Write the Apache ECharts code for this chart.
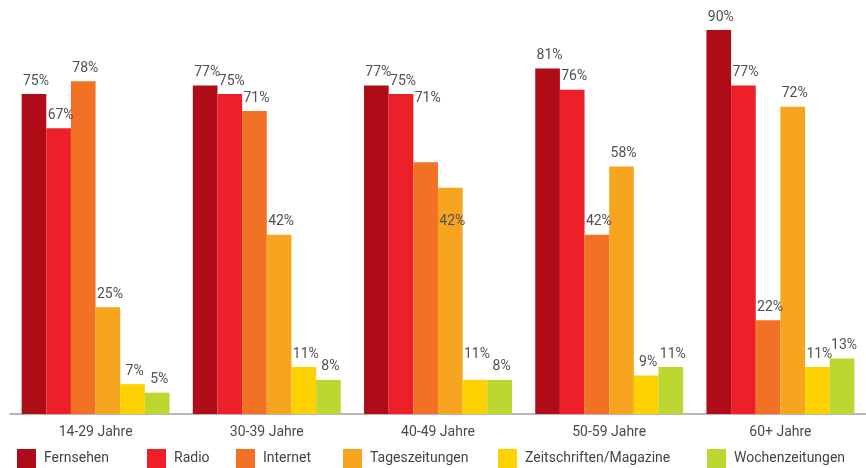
<!DOCTYPE html>
<html>
<head>
<meta charset="utf-8">
<script src="https://cdn.jsdelivr.net/npm/echarts@6/dist/echarts.min.js"></script>
<style>html,body{margin:0;padding:0;background:#fff}#c{width:866px;height:468px}</style>
</head>
<body>
<div id="c"></div>
<script>
// Categories (age groups)
const categories = ['14-29 Jahre', '30-39 Jahre', '40-49 Jahre', '50-59 Jahre', '60+ Jahre'];
const seriesNames = ['Fernsehen', 'Radio', 'Internet', 'Tageszeitungen', 'Zeitschriften/Magazine', 'Wochenzeitungen'];

// Bar heights as drawn (percent)
const fernsehen = [75, 77, 77, 81, 90];
const radio = [67, 75, 75, 76, 77];
const internet = [78, 71, 59, 42, 22];
const tageszeitungen = [25, 42, 53, 58, 72];
const zeitschriften = [7, 11, 8, 9, 11];
const wochenzeitungen = [5, 8, 8, 11, 13];

// Printed value labels (percent) as shown in the picture
const fernsehenLabels = [75, 77, 77, 81, 90];
const radioLabels = [67, 75, 75, 76, 77];
const internetLabels = [78, 71, 71, 42, 22];
const tageszeitungenLabels = [25, 42, 42, 58, 72];
const zeitschriftenLabels = [7, 11, 11, 9, 11];
const wochenzeitungenLabels = [5, 8, 8, 11, 13];

const barData = [fernsehen, radio, internet, tageszeitungen, zeitschriften, wochenzeitungen];
const labelData = [fernsehenLabels, radioLabels, internetLabels, tageszeitungenLabels, zeitschriftenLabels, wochenzeitungenLabels];
const colors = ['#AF0C17', '#ED1F28', '#F37124', '#F7A51E', '#FDD200', '#BED630'];
// legend item left positions (layout)
const legendLefts = [17, 147, 236, 343, 498, 707];

const FONT = 'Roboto';
const chart = echarts.init(document.getElementById('c'), null, {renderer: 'canvas'});

function buildSeries(ppu) {
  return seriesNames.map((name, si) => ({
    name: name,
    type: 'bar',
    barGap: 0,
    barCategoryGap: '13.6%',
    itemStyle: {color: colors[si]},
    label: {
      show: true,
      position: 'top',
      distance: 6,
      fontFamily: FONT,
      fontSize: 14,
      color: '#505050',
      formatter: p => labelData[si][p.dataIndex] + '%'
    },
    data: barData[si].map((v, i) => ({
      value: v,
      label: {offset: [2, (v - labelData[si][i]) * ppu]}
    }))
  }));
}

const option = {
  animation: false,
  textStyle: {fontFamily: FONT},
  grid: {left: 10, right: 0, top: 30, bottom: 54, containLabel: false},
  legend: seriesNames.map((n, i) => ({
    bottom: 0,
    left: legendLefts[i],
    padding: 0,
    itemWidth: 19,
    itemHeight: 19,
    icon: 'rect',
    selectedMode: false,
    textStyle: {fontFamily: FONT, fontSize: 14, color: '#444', padding: [0, 0, 0, 3]},
    data: [n]
  })),
  xAxis: {
    type: 'category',
    data: categories,
    axisLine: {lineStyle: {color: '#a0a0a0', width: 1.5}},
    axisTick: {show: false},
    axisLabel: {fontFamily: FONT, fontSize: 14, color: '#4a4a4a', margin: 11}
  },
  yAxis: {type: 'value', min: 0, max: 90, show: false, splitLine: {show: false}},
  series: buildSeries(0)
};
chart.setOption(option);
const ppu = chart.convertToPixel({yAxisIndex: 0}, 0) - chart.convertToPixel({yAxisIndex: 0}, 1);
chart.setOption({series: buildSeries(ppu)});
</script>
</body>
</html>
